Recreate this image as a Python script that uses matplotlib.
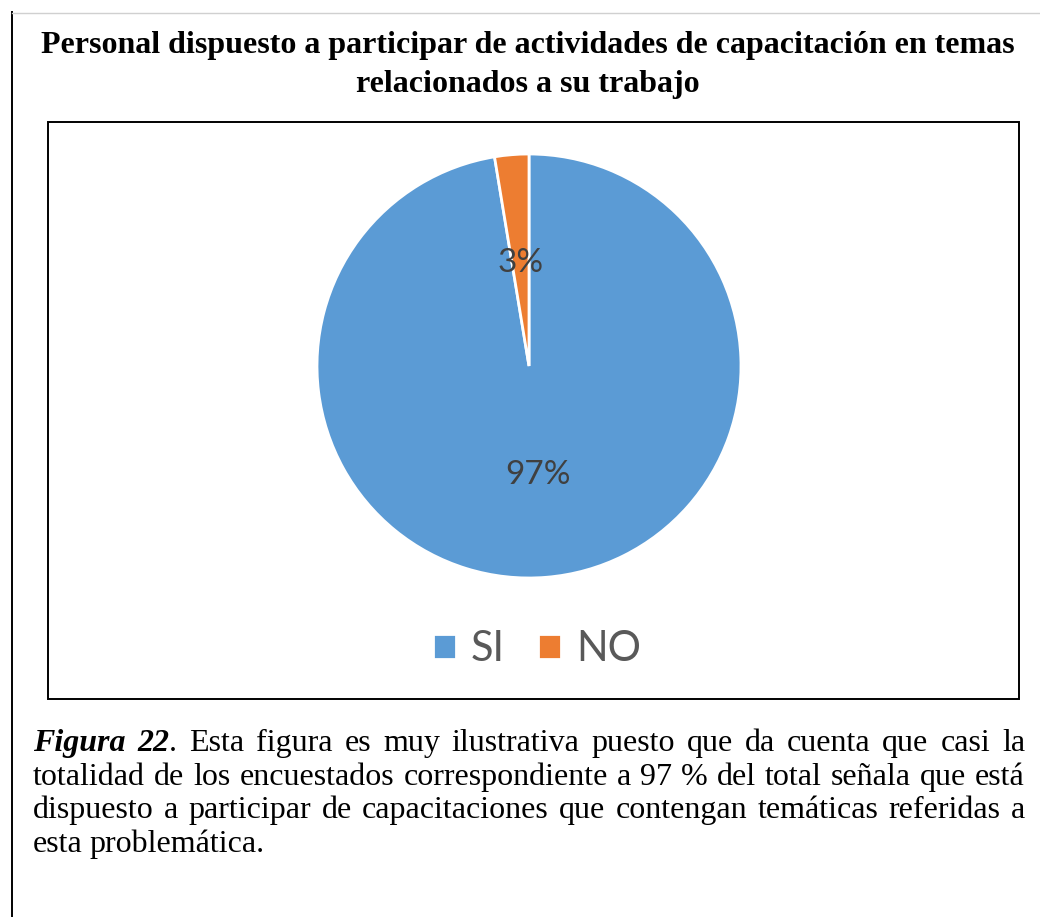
import matplotlib
matplotlib.use("Agg")
import matplotlib.pyplot as plt
from matplotlib.patches import Rectangle
from matplotlib.lines import Line2D

# survey answers (share of staff, %)
categories = ["SI", "NO"]
shares = [97.4, 2.6]
colors = ["#5B9BD5", "#ED7D31"]

title_lines = ["Personal dispuesto a participar de actividades de capacitación en temas",
               "relacionados a su trabajo"]

caption_lines = [
    [("Figura", "bi", True), ("22", "bi", True), (".", "r", False), ("Esta", "r", True),
     ("figura", "r", True), ("es", "r", True), ("muy", "r", True), ("ilustrativa", "r", True),
     ("puesto", "r", True), ("que", "r", True), ("da", "r", True), ("cuenta", "r", True),
     ("que", "r", True), ("casi", "r", True), ("la", "r", True)],
    [(w, "r", True) for w in "totalidad de los encuestados correspondiente a 97 % del total señala que está".split()],
    [(w, "r", True) for w in "dispuesto a participar de capacitaciones que contengan temáticas referidas a".split()],
    [(w, "r", True) for w in "esta problemática.".split()],
]

W, H = 1040, 917
fig = plt.figure(figsize=(W / 100, H / 100), dpi=100)
fig.patch.set_facecolor("white")

def fx(px):
    return px / W

def fy(py):
    return 1 - py / H

# page borders
fig.add_artist(Line2D([fx(12), fx(12)], [fy(12), fy(917)], color="black", lw=1.4))
fig.add_artist(Line2D([fx(12), fx(1040)], [fy(13), fy(13)], color="#d0d0d0", lw=1.0))

# chart frame
fig.add_artist(Rectangle((fx(48), fy(699)), fx(1019) - fx(48), fy(122) - fy(699),
                         transform=fig.transFigure, fill=False, ec="black", lw=1.4))

for line, base in zip(title_lines, [53, 92]):
    fig.text(fx(528), fy(base), line, ha="center", va="baseline", fontsize=23,
             fontweight="bold", family="Liberation Serif")

# pie
cx, cy, r = 529, 366, 212
ax = fig.add_axes([fx(cx - r), fy(cy + r), fx(2 * r), fy(cy - r) - fy(cy + r)])
wedges, _, autotexts = ax.pie(shares, colors=colors, startangle=90, counterclock=False,
                              autopct="%1.0f%%", pctdistance=0.5,
                              wedgeprops=dict(edgecolor="white", linewidth=2.0),
                              textprops=dict(fontsize=24, color="#404040", family="Lato"))
for t in autotexts:
    t.set_va("center_baseline")
ax.set_xlim(-1, 1)
ax.set_ylim(-1, 1)
ax.set_aspect("equal")
ax.axis("off")

leg = fig.legend(wedges, categories, loc="center", bbox_to_anchor=(fx(537), fy(649)),
                 ncol=2, frameon=False, handlelength=0.55, handleheight=0.55,
                 handletextpad=0.36, columnspacing=0.8,
                 prop=dict(family="Lato", size=30))
for t in leg.get_texts():
    t.set_color("#595959")

# caption, justified between left and right margins
left, right = 33, 1025
baselines = [751, 785, 818, 852]
renderer = fig.canvas.get_renderer()
styles = {"bi": dict(style="italic", weight="bold"), "r": dict()}
for i, (line, base) in enumerate(zip(caption_lines, baselines)):
    texts = []
    for word, st, _ in line:
        t = fig.text(0, fy(base), word, fontsize=23, family="Liberation Serif",
                     va="baseline", ha="left", **styles[st])
        texts.append(t)
    widths = [t.get_window_extent(renderer).width for t in texts]
    n_gaps = sum(1 for k, (_, _, sp) in enumerate(line) if k > 0 and sp)
    if i < len(caption_lines) - 1:
        gap = (right - left - sum(widths)) / n_gaps
    else:
        gap = 6.5
    x = left
    for k, (t, w) in enumerate(zip(texts, widths)):
        if k > 0 and line[k][2]:
            x += gap
        t.set_x(fx(x))
        x += w

fig.savefig("out.png", dpi=100)
